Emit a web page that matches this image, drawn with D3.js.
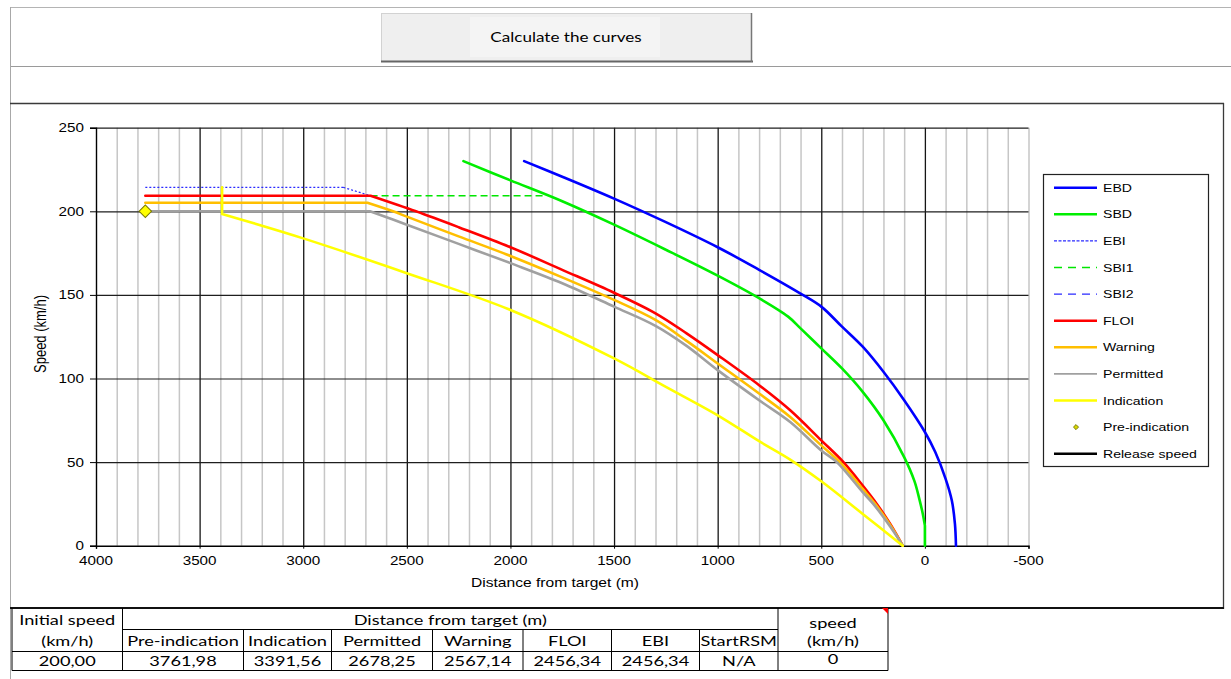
<!DOCTYPE html>
<html>
<head>
<meta charset="utf-8">
<script src="https://cdn.jsdelivr.net/npm/d3@7"></script>
<style>
  html, body { margin: 0; padding: 0; background: #fff; }
  svg { display: block; }
</style>
</head>
<body>
<svg id="sheet" width="1231" height="679"></svg>
<script>
// ---- axis ticks -------------------------------------------------------
const distanceTicks = [4000, 3500, 3000, 2500, 2000, 1500, 1000, 500, 0, -500];
const distanceLabels = ["4000", "3500", "3000", "2500", "2000", "1500", "1000", "500", "0", "-500"];
const speedTicks = [0, 50, 100, 150, 200, 250];
const seriesNames = ["EBD", "SBD", "EBI", "SBI1", "SBI2", "FLOI", "Warning", "Permitted", "Indication", "Pre-indication", "Release speed"];

// ---- curves: [distance from target (m), speed (km/h)] -------------------
const ebdPoints = [[1934,230],[1750,220.7],[1500,207.6],[1250,193.5],[1000,178.5],[800,165],[600,150.8],[500,143],
  [400,131],[300,119],[200,104],[100,87],[0,68],[-50,56],[-100,40],[-130,27],[-145,13],[-150,0]];
const sbdPoints = [[2227,230],[2000,218.5],[1750,206],[1500,192],[1250,177],[1000,161.5],[800,148],[660,137],
  [600,130],[500,118],[400,106],[300,92],[200,75],[100,53],[50,38.5],[27,28],[10,19],[0,12],[0,0]];
const ebiPoints = [[3762,214.3],[2806,214.3],[2675,209.3]];
const sbi1Points = [[2675,209.3],[1845,209.3]];
const sbi2Points = [];
const floiPoints = [[3762,209.3],[2675,209.3],[2456,200],[2250,190.5],[2000,178.5],[1750,165],[1500,151.3],
  [1300,139],[1150,127],[1000,114],[800,96],[650,81],[500,63],[393,50],[300,36],[232,25],[165,12.5],[107,0]];
const warningPoints = [[3762,205.1],[2690,205.1],[2567,200],[2500,196.8],[2250,185],[2000,173.3],[1750,160.5],
  [1500,147],[1300,135],[1150,122.5],[1000,109],[800,91],[650,77],[500,60],[410,50],[300,34],[240,25],[165,12],[107,0]];
const permittedPoints = [[3762,200],[2678,200],[2500,192],[2250,180.5],[2000,169],[1750,157],[1500,143],
  [1300,131.5],[1150,119.5],[1000,105],[800,87],[650,74],[500,57],[425,50],[300,32],[249,25],[165,11],[107,0]];
const indicationPoints = [[3391.56,214.3],[3391.56,198.4],[3000,183.8],[2500,163],[2000,141],[1500,112],
  [1250,95],[1000,78],[800,62.5],[650,51.5],[500,38.5],[300,19],[107,0]];
const preIndicationPoints = [[3761.98,200]];
const releaseSpeedPoints = [];

// ---- table below the chart ----------------------------------------------
const tableColumns = ["Pre-indication", "Indication", "Permitted", "Warning", "FLOI", "EBI", "StartRSM"];
const tableDistances = ["3761,98", "3391,56", "2678,25", "2567,14", "2456,34", "2456,34", "N/A"];
const tableInitialSpeed = "200,00";
const tableTargetSpeed = "0";

// ---- drawing ----------------------------------------------------------
const svg = d3.select("#sheet");
const chartFont = "'Liberation Sans', Arial, sans-serif";
const sheetFont = "Lato, 'Open Sans', sans-serif";
const STRETCH = 1.27;   // horizontal glyph stretch used throughout the sheet

function label(parent, x, y, s, o = {}) {
  const sx = o.sx || STRETCH;
  const tf = o.rotate
    ? `translate(${x},${y}) rotate(${o.rotate}) scale(1,${sx})`
    : `translate(${x},${y}) scale(${sx},1)`;
  return parent.append("text")
    .attr("transform", tf)
    .attr("text-anchor", o.anchor || "start")
    .attr("font-family", o.family || chartFont)
    .attr("font-size", o.size || 12)
    .attr("fill", o.fill || "#000")
    .text(s);
}

svg.append("rect").attr("width", 1231).attr("height", 679).attr("fill", "#fff");

// sheet rules
svg.append("line").attr("x1", 10).attr("x2", 1231).attr("y1", 7.5).attr("y2", 7.5).attr("stroke", "#b4b4b4");
svg.append("line").attr("x1", 10).attr("x2", 1231).attr("y1", 66.5).attr("y2", 66.5).attr("stroke", "#9a9a9a");
svg.append("line").attr("x1", 10.5).attr("x2", 10.5).attr("y1", 7).attr("y2", 679).attr("stroke", "#a8a8a8");

// button
const btn = svg.append("g");
btn.append("rect").attr("x", 381.5).attr("y", 13.5).attr("width", 370).attr("height", 48)
  .attr("fill", "#efefef").attr("stroke", "#d2d2d2");
btn.append("rect").attr("x", 470).attr("y", 17).attr("width", 190).attr("height", 40).attr("fill", "#f4f4f4");
btn.append("line").attr("x1", 381).attr("x2", 753).attr("y1", 61.5).attr("y2", 61.5).attr("stroke", "#666").attr("stroke-width", 2);
btn.append("line").attr("x1", 751.5).attr("x2", 751.5).attr("y1", 13).attr("y2", 62).attr("stroke", "#777").attr("stroke-width", 1.5);
label(btn, 566, 42, "Calculate the curves", { family: sheetFont, size: 14, anchor: "middle", sx: 1.22 });

// chart frame
svg.append("line").attr("x1", 10).attr("x2", 1224).attr("y1", 103.5).attr("y2", 103.5).attr("stroke", "#3a3a3a").attr("stroke-width", 1.3);
svg.append("line").attr("x1", 1223.5).attr("x2", 1223.5).attr("y1", 103).attr("y2", 609).attr("stroke", "#3a3a3a").attr("stroke-width", 1.3);
svg.append("line").attr("x1", 10).attr("x2", 1224).attr("y1", 608).attr("y2", 608).attr("stroke", "#111").attr("stroke-width", 2);

// scales
const x = d3.scaleLinear().domain([4000, -500]).range([96, 1028.5]);
const y = d3.scaleLinear().domain([0, 250]).range([545.7, 127.7]);
const plotTop = y(250), plotBottom = y(0), plotLeft = x(4000), plotRight = x(-500);

const plot = svg.append("g");

// minor vertical grid every 100 m
const minorTicks = d3.range(4000, -501, -100).filter(d => d % 500 !== 0 || d === -500);
plot.append("g")
  .attr("transform", `translate(0,${plotBottom})`)
  .call(d3.axisBottom(x).tickValues(minorTicks).tickSize(-(plotBottom - plotTop)).tickFormat(""))
  .call(g => g.select(".domain").remove())
  .call(g => g.selectAll("line").attr("stroke", "#c6c6c6").attr("stroke-width", 1.5));

// major vertical grid every 500 m
plot.append("g")
  .attr("transform", `translate(0,${plotBottom})`)
  .call(d3.axisBottom(x).tickValues(distanceTicks.filter(d => d !== 4000 && d !== -500))
    .tickSize(-(plotBottom - plotTop)).tickFormat(""))
  .call(g => g.select(".domain").remove())
  .call(g => g.selectAll("line").attr("stroke", "#151515").attr("stroke-width", 1.3));

// horizontal grid every 50 km/h
plot.append("g")
  .attr("transform", `translate(${plotLeft},0)`)
  .call(d3.axisLeft(y).tickValues(speedTicks.filter(d => d > 0))
    .tickSize(-(plotRight - plotLeft)).tickFormat(""))
  .call(g => g.select(".domain").remove())
  .call(g => g.selectAll("line").attr("stroke", "#1e1e1e").attr("stroke-width", 1.2));

// axes
const xAxis = plot.append("g")
  .attr("transform", `translate(0,${plotBottom})`)
  .call(d3.axisBottom(x).tickValues(distanceTicks).tickSize(3).tickFormat(""));
xAxis.select(".domain").attr("stroke", "#000").attr("stroke-width", 1.4);
xAxis.selectAll("line").attr("stroke", "#000");
distanceTicks.forEach((d, i) => label(plot, x(d), plotBottom + 19.5, distanceLabels[i], { anchor: "middle", size: 12 }));

const yAxis = plot.append("g")
  .attr("transform", `translate(${plotLeft},0)`)
  .call(d3.axisLeft(y).tickValues(speedTicks).tickSize(6).tickFormat(""));
yAxis.select(".domain").attr("stroke", "#000").attr("stroke-width", 1.4);
yAxis.selectAll("line").attr("stroke", "#000");
speedTicks.forEach(d => label(plot, plotLeft - 12, y(d) + 4.5, String(d), { anchor: "end", size: 12 }));

label(plot, 555, 587, "Distance from target (m)", { anchor: "middle", size: 12, sx: 1.3 });
label(plot, 46, 334, "Speed (km/h)", { anchor: "middle", size: 13, rotate: -90, sx: 1.25 });

// series styles; "corners" are point indices where the curve has a hard bend
const series = [
  { name: seriesNames[0], data: ebdPoints,        color: "#0000ff", width: 2.6, corners: [] },
  { name: seriesNames[1], data: sbdPoints,        color: "#00ee00", width: 2.6, corners: [17] },
  { name: seriesNames[2], data: ebiPoints,        color: "#2a2aff", width: 1.2, dash: "2,2", corners: [1] },
  { name: seriesNames[3], data: sbi1Points,       color: "#00e600", width: 1.3, dash: "7,4", corners: [] },
  { name: seriesNames[4], data: sbi2Points,       color: "#2a2aff", width: 1.3, dash: "7,4", corners: [] },
  { name: seriesNames[5], data: floiPoints,       color: "#ff0000", width: 2.6, corners: [1] },
  { name: seriesNames[6], data: warningPoints,    color: "#ffbf00", width: 2.6, corners: [1] },
  { name: seriesNames[7], data: permittedPoints,  color: "#a0a0a0", width: 2.6, corners: [1] },
  { name: seriesNames[8], data: indicationPoints, color: "#ffff00", width: 2.6, corners: [1] },
  { name: seriesNames[9], data: preIndicationPoints, color: "#ffff00", marker: true },
  { name: seriesNames[10], data: releaseSpeedPoints, color: "#000000", width: 2.6, corners: [] }
];

const smooth = d3.line().x(d => x(d[0])).y(d => y(d[1])).curve(d3.curveCatmullRom.alpha(0.5));
function curvePath(points, corners) {
  const cuts = [0, ...corners, points.length - 1];
  let d = "";
  for (let i = 0; i < cuts.length - 1; i++) {
    const piece = points.slice(cuts[i], cuts[i + 1] + 1);
    if (piece.length > 1) d += smooth(piece);
  }
  return d;
}

const curves = plot.append("g").attr("fill", "none")
  .attr("stroke-linejoin", "round").attr("stroke-linecap", "round");
series.filter(s => !s.marker && s.data.length).forEach(s => {
  curves.append("path")
    .attr("d", curvePath(s.data, s.corners))
    .attr("stroke", s.color)
    .attr("stroke-width", s.width)
    .attr("stroke-linecap", s.dash ? "butt" : "round")
    .attr("stroke-dasharray", s.dash || null);
});

const diamond = d3.symbol().type(d3.symbolSquare).size(78);
plot.selectAll("path.pre").data(preIndicationPoints).join("path")
  .attr("class", "pre")
  .attr("d", diamond)
  .attr("transform", d => `translate(${x(d[0])},${y(d[1])}) rotate(45)`)
  .attr("fill", "#ffff00").attr("stroke", "#7a7a00").attr("stroke-width", 1);

// legend
const legend = svg.append("g");
legend.append("rect").attr("x", 1043.5).attr("y", 174.5).attr("width", 165).attr("height", 292)
  .attr("fill", "#fff").attr("stroke", "#222").attr("stroke-width", 1.2);
series.forEach((s, i) => {
  const ly = 187.7 + i * 26.6;
  if (s.marker) {
    legend.append("path").attr("d", d3.symbol().type(d3.symbolSquare).size(13))
      .attr("transform", `translate(1076,${ly}) rotate(45)`)
      .attr("fill", "#d8d800").attr("stroke", "#6a6a00").attr("stroke-width", 0.8);
  } else {
    legend.append("line").attr("x1", 1054).attr("x2", 1097).attr("y1", ly).attr("y2", ly)
      .attr("stroke", s.color)
      .attr("stroke-width", s.dash ? 1.3 : (s.name === "Permitted" ? 1.6 : 2.4))
      .attr("stroke-dasharray", s.dash ? (s.dash === "2,2" ? "3,1.5" : "8,6") : null);
  }
  label(legend, 1103, ly + 4, s.name, { size: 11, sx: 1.28 });
});

// data table
const table = svg.append("g");
const colX = [12, 122.5, 243.5, 331.5, 432.5, 523, 611.5, 699.5, 778, 888];
const rowY = [608, 629.5, 651.5, 670.5];
const rule = (x1, y1, x2, y2, w = 1) => table.append("line")
  .attr("x1", x1).attr("y1", y1).attr("x2", x2).attr("y2", y2)
  .attr("stroke", "#000").attr("stroke-width", w);

rule(colX[0], rowY[3], colX[9], rowY[3]);
rule(colX[0], rowY[2], colX[9], rowY[2]);
rule(colX[1], rowY[1], colX[8], rowY[1]);
[0, 1, 8, 9].forEach(i => rule(colX[i], rowY[0], colX[i], rowY[3]));
[2, 3, 4, 5, 6, 7].forEach(i => rule(colX[i], rowY[1], colX[i], rowY[3]));
table.append("path").attr("d", `M${colX[9] - 6},${rowY[0]}L${colX[9]},${rowY[0]}L${colX[9]},${rowY[0] + 6}Z`).attr("fill", "#ff0000");

const cell = (cx, by, s) => label(table, cx, by, s, { family: sheetFont, size: 14, anchor: "middle", sx: 1.3 });
cell((colX[0] + colX[1]) / 2, 624.5, "Initial speed");
cell((colX[0] + colX[1]) / 2, 645.5, "(km/h)");
cell((colX[1] + colX[8]) / 2, 624.5, "Distance from target (m)");
cell((colX[8] + colX[9]) / 2, 627.5, "speed");
cell((colX[8] + colX[9]) / 2, 646, "(km/h)");
tableColumns.forEach((c, i) => cell((colX[i + 1] + colX[i + 2]) / 2, 646, c));
cell((colX[0] + colX[1]) / 2, 666, tableInitialSpeed);
tableDistances.forEach((v, i) => cell((colX[i + 1] + colX[i + 2]) / 2, 666, v));
cell((colX[8] + colX[9]) / 2, 664, tableTargetSpeed);
</script>
</body>
</html>
